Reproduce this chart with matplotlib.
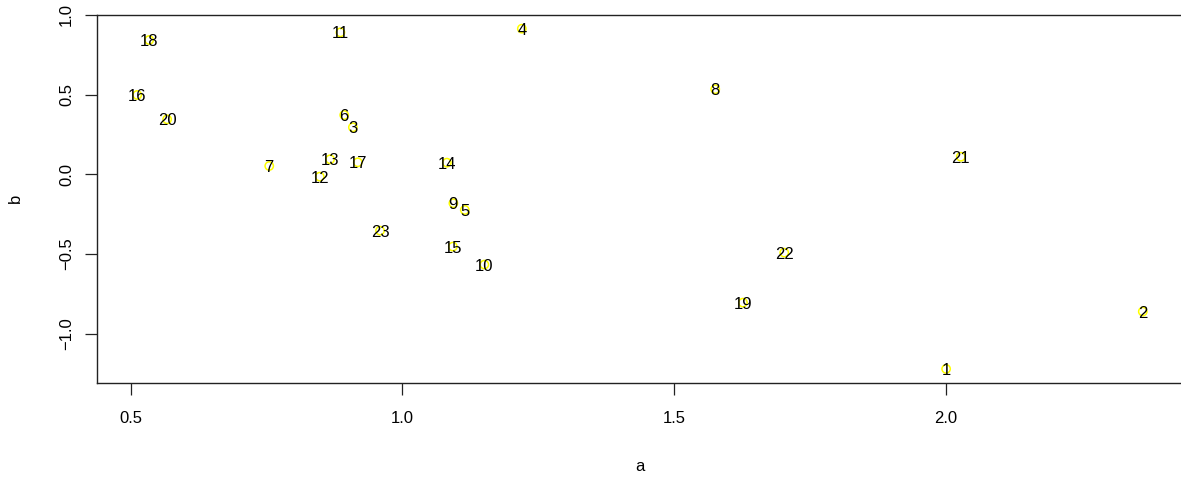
import matplotlib
matplotlib.use('Agg')
import matplotlib.pyplot as plt
import numpy as np

plt.rcParams['font.family'] = ['Liberation Sans', 'DejaVu Sans']

# point ids with their a / b coordinates
ids = [str(i) for i in range(1, 24)]
a = [2.001, 2.363, 0.909, 1.220, 1.115, 0.893, 0.755, 1.576, 1.094, 1.151,
     0.886, 0.848, 0.867, 1.082, 1.093, 0.512, 0.918, 0.534, 1.627, 0.567,
     2.028, 1.703, 0.959]
b = [-1.222, -0.862, 0.295, 0.914, -0.224, 0.372, 0.052, 0.534, -0.182, -0.567,
     0.891, -0.015, 0.094, 0.073, -0.454, 0.498, 0.075, 0.843, -0.806, 0.345,
     0.110, -0.492, -0.354]
xticks = [0.5, 1.0, 1.5, 2.0]
yticks = [-1.0, -0.5, 0.0, 0.5, 1.0]

fig = plt.figure(figsize=(11.81, 4.79), dpi=100)
ax = fig.add_axes([97 / 1181, (479 - 382.5) / 479, (1183 - 97) / 1181, (382.5 - 15) / 479])

ax.scatter(a, b, s=36, facecolors='none', edgecolors='#ffff00', linewidths=1.1, zorder=2)
for lbl, x, y in zip(ids, a, b):
    ax.text(x, y, lbl, ha='center', va='center_baseline', fontsize=12, color='black', zorder=3)

# R style 4% padding
xr = max(a) - min(a)
yr = max(b) - min(b)
ax.set_xlim(min(a) - 0.04 * xr, max(a) + 0.04 * xr)
ax.set_ylim(min(b) - 0.04 * yr, max(b) + 0.04 * yr)

ax.set_xticks(xticks)
ax.set_yticks(yticks)
ax.set_xticklabels([f'{t:.1f}' for t in xticks])
ax.set_yticklabels([f'{t:.1f}'.replace('-', '\u2212') for t in yticks],
                   rotation=90, va='center')
ax.tick_params(axis='both', direction='out', length=8.6, width=0.9, labelsize=12,
               color='#222222')
ax.tick_params(axis='x', pad=12)
ax.tick_params(axis='y', pad=8)

for sp in ax.spines.values():
    sp.set_linewidth(1.0)
    sp.set_color('#222222')

ax.set_xlabel('a', fontsize=12, labelpad=24)
ax.set_ylabel('b', fontsize=12, labelpad=26)

fig.savefig('out.png', dpi=100)
